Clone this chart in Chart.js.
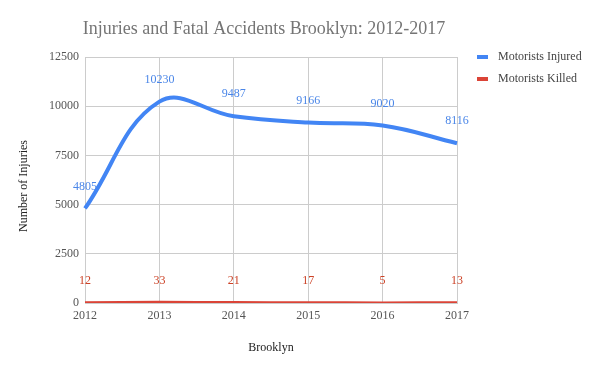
<!DOCTYPE html>
<html><head><meta charset="utf-8">
<script src="https://cdn.jsdelivr.net/npm/chart.js@4"></script>
<style>html,body{margin:0;padding:0;background:#fff}#wrap{width:594px;height:368px;position:relative}</style>
</head><body><div id="wrap"><canvas id="c" width="594" height="368"></canvas></div>
<script>
const categories = ['2012','2013','2014','2015','2016','2017'];
const injured = [4805, 10230, 9487, 9166, 9020, 8116];
const killed = [12, 33, 21, 17, 5, 13];
const yTicks = [0, 2500, 5000, 7500, 10000, 12500];
const seriesNames = ['Motorists Injured', 'Motorists Killed'];
const chartTitle = 'Injuries and Fatal Accidents Brooklyn: 2012-2017';
const yTitle = 'Number of Injuries';
const xTitle = 'Brooklyn';

const SERIF = '"Liberation Serif", "DejaVu Serif", serif';

const extras = {
  id: 'extras',
  afterDatasetsDraw(chart) {
    const ctx = chart.ctx;
    ctx.save();
    ctx.font = '12px ' + SERIF;
    ctx.textAlign = 'center';
    ctx.textBaseline = 'middle';
    const colors = ['#4a86e8', '#cc4125'];
    chart.data.datasets.forEach((ds, i) => {
      const meta = chart.getDatasetMeta(i);
      ctx.fillStyle = colors[i];
      meta.data.forEach((pt, j) => {
        ctx.fillText(String(ds.data[j]), pt.x, pt.y - 22);
      });
    });
    // title
    ctx.fillStyle = '#757575';
    ctx.font = '18px ' + SERIF;
    ctx.fillText(chartTitle, 264, 29);
    // y title
    ctx.save();
    ctx.font = '12px ' + SERIF;
    ctx.fillStyle = '#222';
    ctx.translate(24, 186);
    ctx.rotate(-Math.PI / 2);
    ctx.fillText(yTitle, 0, 0);
    ctx.restore();
    // legend
    ctx.font = '12px ' + SERIF;
    ctx.textAlign = 'left';
    const lc = ['#4285f4', '#db4437'];
    seriesNames.forEach((n, i) => {
      const y = 57 + i * 22;
      ctx.fillStyle = lc[i];
      ctx.fillRect(477, y - 2, 11, 4);
      ctx.fillStyle = '#444';
      ctx.fillText(n, 498, y);
    });
    ctx.restore();
  }
};

new Chart(document.getElementById('c'), {
  type: 'line',
  data: {
    labels: categories,
    datasets: [
      { label: seriesNames[0], data: injured, borderColor: '#4285f4', backgroundColor: '#4285f4', borderWidth: 4, pointRadius: 0, tension: 0.4, fill: false },
      { label: seriesNames[1], data: killed, borderColor: '#db4437', backgroundColor: '#db4437', borderWidth: 3, pointRadius: 0, tension: 0.4, fill: false }
    ]
  },
  options: {
    responsive: false,
    animation: false,
    layout: { padding: { left: 14, right: 137, top: 57, bottom: 0 } },
    plugins: { legend: { display: false }, tooltip: { enabled: false } },
    scales: {
      x: {
        grid: { color: '#cccccc', drawTicks: false },
        border: { color: '#cccccc' },
        ticks: { font: { family: SERIF, size: 12 }, color: '#555', padding: 6, maxRotation: 0 },
        title: { display: true, text: xTitle, font: { family: SERIF, size: 12 }, color: '#222', padding: { top: 4, bottom: 13 } },
        afterFit(s) { s.height = 65; }
      },
      y: {
        min: 0, max: 12500,
        afterBuildTicks(s) { s.ticks = yTicks.map(v => ({ value: v })); },
        grid: { color: '#cccccc', drawTicks: false },
        border: { color: '#cccccc' },
        ticks: { font: { family: SERIF, size: 12 }, color: '#555', padding: 6, callback: v => String(v) },
        afterFit(s) { s.width = 71; }
      }
    }
  },
  plugins: [extras]
});
</script></body></html>
